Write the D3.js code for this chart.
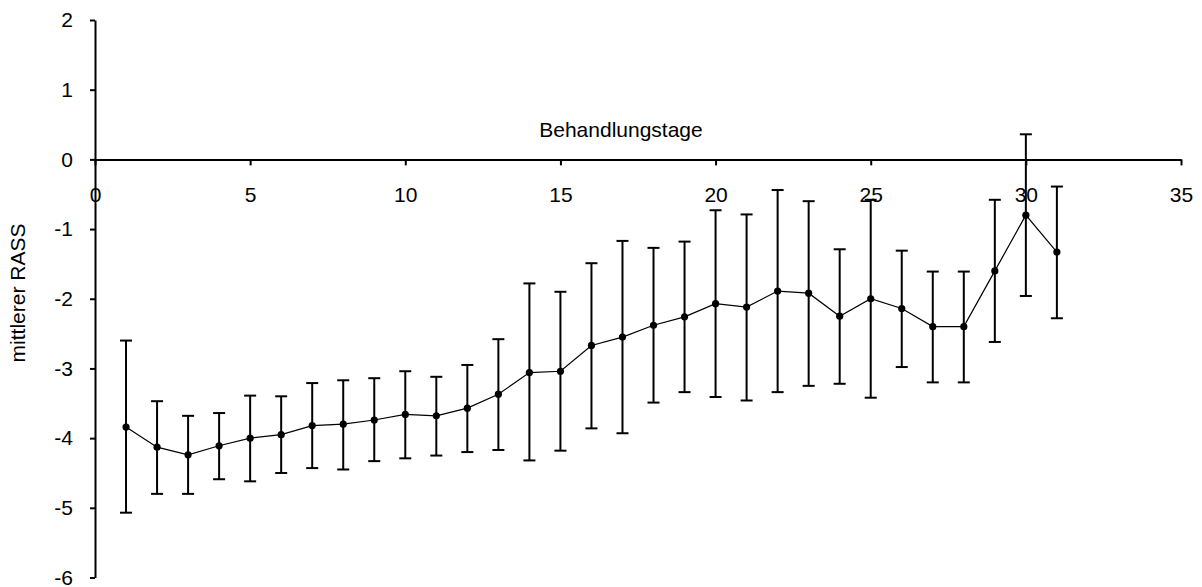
<!DOCTYPE html>
<html>
<head>
<meta charset="utf-8">
<script src="https://cdn.jsdelivr.net/npm/d3@7"></script>
<style>
  body { margin: 0; background: #fff; }
  text { font-family: Arial, "Liberation Sans", sans-serif; fill: #000; }
</style>
</head>
<body>
<svg id="chart" width="1202" height="587"></svg>
<script>
// values
const days = [1, 2, 3, 4, 5, 6, 7, 8, 9, 10, 11, 12, 13, 14, 15, 16, 17, 18, 19, 20, 21, 22, 23, 24, 25, 26, 27, 28, 29, 30, 31];
const means = [-3.84, -4.13, -4.24, -4.11, -4.00, -3.95, -3.82, -3.80, -3.74, -3.66, -3.68, -3.57, -3.37, -3.06, -3.04, -2.67, -2.55, -2.38, -2.26, -2.07, -2.12, -1.89, -1.92, -2.25, -2.00, -2.14, -2.40, -2.40, -1.60, -0.80, -1.33];
const upper = [-2.60, -3.47, -3.68, -3.64, -3.39, -3.40, -3.21, -3.17, -3.14, -3.04, -3.12, -2.95, -2.58, -1.78, -1.90, -1.49, -1.17, -1.27, -1.18, -0.73, -0.79, -0.44, -0.60, -1.29, -0.58, -1.31, -1.61, -1.61, -0.58, 0.36, -0.39];
const lower = [-5.07, -4.80, -4.80, -4.59, -4.62, -4.50, -4.43, -4.45, -4.33, -4.29, -4.25, -4.20, -4.17, -4.32, -4.18, -3.86, -3.93, -3.49, -3.34, -3.41, -3.46, -3.34, -3.25, -3.22, -3.42, -2.98, -3.20, -3.20, -2.62, -1.96, -2.28];
const xTicks = [0, 5, 10, 15, 20, 25, 30, 35];
const yTicks = [-6, -5, -4, -3, -2, -1, 0, 1, 2];

const data = days.map((d, i) => ({ day: d, mean: means[i], hi: upper[i], lo: lower[i] }));

const svg = d3.select('#chart');
const x = d3.scaleLinear().domain([0, 35]).range([95, 1181]);
const y = d3.scaleLinear().domain([-6, 2]).range([577.5, 20]);
const fmt = (d) => String(d); // plain hyphen minus, like the original

// y axis
svg.append('g')
  .attr('transform', `translate(${x(0)},0)`)
  .call(d3.axisLeft(y).tickValues(yTicks).tickFormat(fmt).tickSize(5).tickPadding(17).tickSizeOuter(0))
  .call((g) => g.selectAll('path,line').attr('stroke', '#000').attr('stroke-width', 2))
  .call((g) => g.selectAll('text').attr('font-size', 21).style('font-family', 'Arial, "Liberation Sans", sans-serif'));

// x axis sits at y = 0
svg.append('g')
  .attr('transform', `translate(0,${y(0)})`)
  .call(d3.axisBottom(x).tickValues(xTicks).tickFormat(fmt).tickSize(6).tickPadding(22).tickSizeOuter(0))
  .call((g) => g.selectAll('path,line').attr('stroke', '#000').attr('stroke-width', 2))
  .call((g) => g.selectAll('text').attr('font-size', 21).style('font-family', 'Arial, "Liberation Sans", sans-serif'));

// axis titles
svg.append('text')
  .attr('x', 621)
  .attr('y', 137)
  .attr('text-anchor', 'middle')
  .attr('font-size', 21)
  .text('Behandlungstage');

svg.append('text')
  .attr('transform', 'translate(25,293) rotate(-90)')
  .attr('text-anchor', 'middle')
  .attr('font-size', 21)
  .text('mittlerer RASS');

// error bars
const bars = svg.append('g').attr('stroke', '#000').attr('stroke-width', 2);
bars.selectAll('line.v')
  .data(data)
  .join('line')
  .attr('class', 'v')
  .attr('x1', (d) => x(d.day))
  .attr('x2', (d) => x(d.day))
  .attr('y1', (d) => y(d.hi))
  .attr('y2', (d) => y(d.lo));
bars.selectAll('line.hi')
  .data(data)
  .join('line')
  .attr('class', 'hi')
  .attr('x1', (d) => x(d.day) - 6)
  .attr('x2', (d) => x(d.day) + 6)
  .attr('y1', (d) => y(d.hi))
  .attr('y2', (d) => y(d.hi));
bars.selectAll('line.lo')
  .data(data)
  .join('line')
  .attr('class', 'lo')
  .attr('x1', (d) => x(d.day) - 6)
  .attr('x2', (d) => x(d.day) + 6)
  .attr('y1', (d) => y(d.lo))
  .attr('y2', (d) => y(d.lo));

// mean line + markers
const line = d3.line().x((d) => x(d.day)).y((d) => y(d.mean));
svg.append('path')
  .datum(data)
  .attr('d', line)
  .attr('fill', 'none')
  .attr('stroke', '#000')
  .attr('stroke-width', 1.2);

svg.append('g')
  .selectAll('circle')
  .data(data)
  .join('circle')
  .attr('cx', (d) => x(d.day))
  .attr('cy', (d) => y(d.mean))
  .attr('r', 3.6)
  .attr('fill', '#000');
</script>
</body>
</html>
